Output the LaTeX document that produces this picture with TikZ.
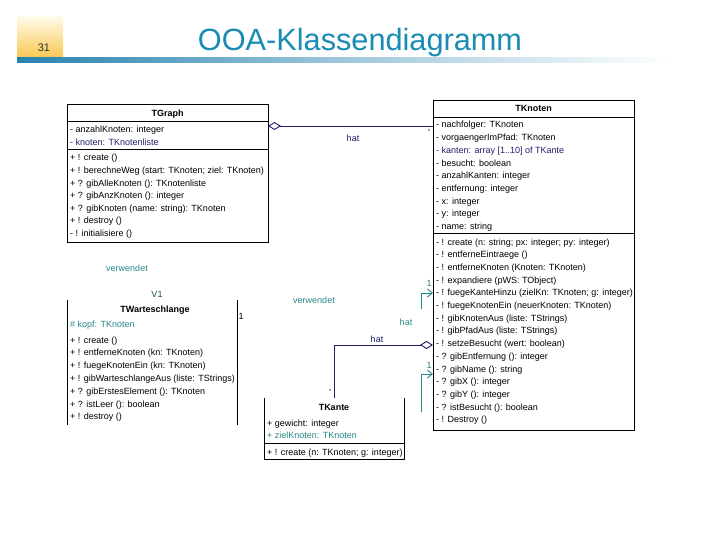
\documentclass[tikz,border=0pt]{standalone}
\usepackage{fontspec}
\setmainfont{Liberation Sans}
\usetikzlibrary{arrows.meta,calc}
\definecolor{navy}{RGB}{30,30,110}
\definecolor{tealc}{RGB}{40,135,135}
\definecolor{titleblue}{RGB}{25,140,180}
\definecolor{barblue}{RGB}{40,130,175}
\begin{document}
\begin{tikzpicture}[x=1pt,y=-1pt,
  classbox/.style={draw=black,line width=0.9pt,inner sep=0pt,outer sep=0pt},
  openbox/.style={inner sep=0pt,outer sep=0pt},
  edge/.style={line width=0.9pt,black},
  row/.style={anchor=base west,inner sep=0pt,font=\fontsize{9}{11}\selectfont},
  ctitle/.style={anchor=base,inner sep=0pt,font=\fontsize{9}{11}\selectfont\bfseries},
  lbl/.style={inner sep=0pt,font=\fontsize{9}{11}\selectfont},
  aggr/.style={navy,line width=0.9pt,{Diamond[open,length=13pt,width=8pt]}-},
  tealarrow/.style={tealc,line width=0.9pt,-{Straight Barb[length=5pt,width=8pt]}}]
\useasboundingbox (0,0) rectangle (720,540);
\fill[white] (0,0) rectangle (720,540);
% header
\shade[top color={rgb,255:red,255;green,250;blue,232},bottom color={rgb,255:red,248;green,200;blue,80}] (17,17) rectangle (63,58);
\node[lbl,font=\fontsize{11}{13}\selectfont,text=black!80] (pnum) at (44,48) {31};
\shade[left color=barblue,right color=white,middle color=barblue!45] (17,58) rectangle (670,63);
\node[inner sep=0pt,font=\fontsize{30.7}{34}\selectfont,text=titleblue,anchor=base] (title) at (360,51) {OOA-Klassendiagramm};

% TGraph
\node[classbox,minimum width=201pt,minimum height=138pt] (tgraph) at (167.5,173) {};
\draw[edge] ($(tgraph.north west)+(0,17)$) -- ($(tgraph.north east)+(0,17)$);
\draw[edge] ($(tgraph.north west)+(0,45.5)$) -- ($(tgraph.north east)+(0,45.5)$);
\node[ctitle] (tgt) at (167.5,116.5) {TGraph};
\node[row] (g1) at (70,133) {- anzahlKnoten: integer};
\node[row,text=navy] (g2) at (70,145.5) {- knoten: TKnotenliste};
\node[row] (g3) at (70,161) {+ ! create ()};
\node[row] (g4) at (70,173.6) {+ ! berechneWeg (start: TKnoten; ziel: TKnoten)};
\node[row] (g5) at (70,186.2) {+ ? gibAlleKnoten (): TKnotenliste};
\node[row] (g6) at (70,198.8) {+ ? gibAnzKnoten (): integer};
\node[row] (g7) at (70,211.4) {+ ? gibKnoten (name: string): TKnoten};
\node[row] (g8) at (70,224) {+ ! destroy ()};
\node[row] (g9) at (70,236.6) {- ! initialisiere ()};

% TKnoten
\node[classbox,minimum width=201pt,minimum height=330pt] (tknoten) at (533.5,265) {};
\draw[edge] ($(tknoten.north west)+(0,17)$) -- ($(tknoten.north east)+(0,17)$);
\draw[edge] ($(tknoten.north west)+(0,133)$) -- ($(tknoten.north east)+(0,133)$);
\node[ctitle] (tkt) at (533.5,112) {TKnoten};
\node[row] (k1) at (436,128) {- nachfolger: TKnoten};
\node[row] (k2) at (436,140.7) {- vorgaengerImPfad: TKnoten};
\node[row,text=navy] (k3) at (436,153.4) {- kanten: array [1..10] of TKante};
\node[row] (k4) at (436,166.1) {- besucht: boolean};
\node[row] (k5) at (436,178.8) {- anzahlKanten: integer};
\node[row] (k6) at (436,191.5) {- entfernung: integer};
\node[row] (k7) at (436,204.2) {- x: integer};
\node[row] (k8) at (436,216.9) {- y: integer};
\node[row] (k9) at (436,229.6) {- name: string};
\node[row] (m1) at (436,245) {- ! create (n: string; px: integer; py: integer)};
\node[row] (m2) at (436,257.7) {- ! entferneEintraege ()};
\node[row] (m3) at (436,270.4) {- ! entferneKnoten (Knoten: TKnoten)};
\node[row] (m4) at (436,283.1) {- ! expandiere (pWS: TObject)};
\node[row] (m5) at (436,295.8) {- ! fuegeKanteHinzu (zielKn: TKnoten; g: integer)};
\node[row] (m6) at (436,308.5) {- ! fuegeKnotenEin (neuerKnoten: TKnoten)};
\node[row] (m7) at (436,321.2) {- ! gibKnotenAus (liste: TStrings)};
\node[row] (m8) at (436,333.9) {- ! gibPfadAus (liste: TStrings)};
\node[row] (m9) at (436,346.6) {- ! setzeBesucht (wert: boolean)};
\node[row] (m10) at (436,359.3) {- ? gibEntfernung (): integer};
\node[row] (m11) at (436,372) {- ? gibName (): string};
\node[row] (m12) at (436,384.7) {- ? gibX (): integer};
\node[row] (m13) at (436,397.4) {- ? gibY (): integer};
\node[row] (m14) at (436,410.1) {- ? istBesucht (): boolean};
\node[row] (m15) at (436,422.8) {- ! Destroy ()};

% TWarteschlange
\node[openbox,minimum width=170pt,minimum height=125pt] (twarte) at (152,362.5) {};
\draw[edge] (twarte.north west) -- (twarte.south west);
\draw[edge] (twarte.north east) -- (twarte.south east);
\node[lbl,text=tealc!60!black,anchor=base] (v1) at (157,297) {V1};
\node[ctitle] (twt) at (155,312) {TWarteschlange};
\node[row,text=tealc] (w1) at (70,327) {\# kopf: TKnoten};
\node[row] (w2) at (70,343) {+ ! create ()};
\node[row] (w3) at (70,355.8) {+ ! entferneKnoten (kn: TKnoten)};
\node[row] (w4) at (70,368.6) {+ ! fuegeKnotenEin (kn: TKnoten)};
\node[row] (w5) at (70,381.4) {+ ! gibWarteschlangeAus (liste: TStrings)};
\node[row] (w6) at (70,394.2) {+ ? gibErstesElement (): TKnoten};
\node[row] (w7) at (70,407) {+ ? istLeer (): boolean};
\node[row] (w8) at (70,419.8) {+ ! destroy ()};

% TKante
\node[openbox,minimum width=140pt,minimum height=61pt] (tkante) at (334,428.5) {};
\draw[edge] (tkante.north west) -- (tkante.south west) -- (tkante.south east) -- (tkante.north east);
\draw[edge] ($(tkante.north west)+(0,45)$) -- ($(tkante.north east)+(0,45)$);
\node[ctitle] (tkat) at (334,410.5) {TKante};
\node[row] (a1) at (267,426) {+ gewicht: integer};
\node[row,text=tealc] (a2) at (267,438.5) {+ zielKnoten: TKnoten};
\node[row] (a3) at (267,455) {+ ! create (n: TKnoten; g: integer)};

% connectors
\draw[aggr] ($(tgraph.north east)+(0,22)$) -- ($(tknoten.north west)+(0,26)$);
\node[lbl,text=navy] (h1) at (353,138) {hat};
\node[lbl,text=navy,font=\fontsize{6}{7}\selectfont] (s1) at (429,131) {*};
\draw[aggr] ($(tknoten.north west)+(0,245)$) -| (tkante.north);
\node[lbl,text=navy] (h2) at (377,339) {hat};
\node[lbl,text=navy,font=\fontsize{6}{7}\selectfont] (s2) at (330,391) {*};

\coordinate (t1) at (421,309);
\draw[tealarrow] (t1) |- ($(tknoten.north west)+(0,193)$);
\node[lbl,text=tealc] (n1) at (429,283) {1};
\node[lbl,text=tealc] (h3) at (406,322) {hat};
\coordinate (t2) at (421,412);
\draw[tealarrow] (t2) |- ($(tknoten.north west)+(0,274)$);
\node[lbl,text=tealc] (n2) at (429,365) {1};

\node[lbl,text=tealc] (vw1) at (127,268) {verwendet};
\node[lbl,text=tealc] (vw2) at (314,300) {verwendet};
\node[lbl] (n3) at (241,316) {1};
\end{tikzpicture}
\end{document}
